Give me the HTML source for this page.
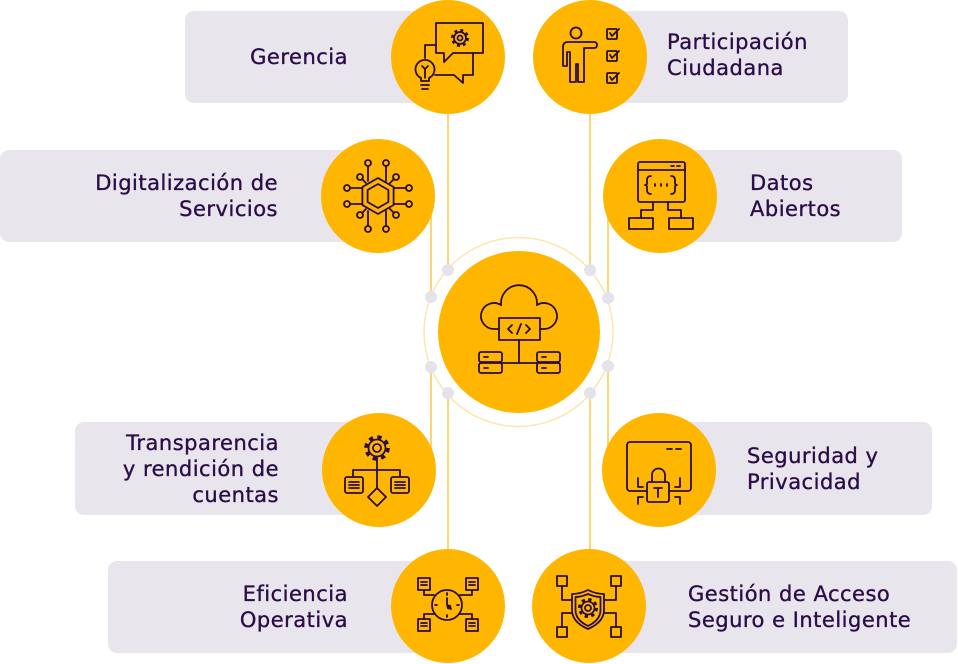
<!DOCTYPE html>
<html><head><meta charset="utf-8"><style>
html,body{margin:0;padding:0;background:#fff;}
#c{position:relative;width:958px;height:664px;overflow:hidden;background:#fff;}
svg{position:absolute;left:0;top:0;}
.t{position:absolute;display:flex;align-items:center;font-family:"DejaVu Sans","Liberation Sans",sans-serif;font-size:21px;line-height:26px;letter-spacing:0.5px;color:#2B0C47;white-space:nowrap;-webkit-text-stroke:0.35px #2B0C47;}
.l{justify-content:flex-end;text-align:right;}
.r{justify-content:flex-start;text-align:left;}
</style></head><body><div id="c">
<svg width="958" height="664" viewBox="0 0 958 664" xmlns="http://www.w3.org/2000/svg">
<g fill="#E8E5ED">
<rect x="185" y="11" width="263" height="92" rx="9"/>
<rect x="590" y="11" width="258" height="92" rx="9"/>
<rect x="0" y="150" width="378" height="92" rx="9"/>
<rect x="660" y="150" width="242" height="92" rx="9"/>
<rect x="75" y="422" width="304" height="93" rx="9"/>
<rect x="659" y="422" width="273" height="93" rx="9"/>
<rect x="108" y="561" width="340" height="92" rx="9"/>
<rect x="589" y="561" width="368" height="92" rx="9"/>
</g>
<g stroke="#F9C84F" stroke-width="1.5">
<line x1="448" y1="57" x2="448" y2="606"/>
<line x1="431" y1="196" x2="431" y2="470"/>
<line x1="590" y1="57" x2="590" y2="606"/>
<line x1="608" y1="196" x2="608" y2="470"/>
</g>
<circle cx="518.5" cy="332" r="94.5" fill="#fff" stroke="#FDE6AE" stroke-width="1.5"/>
<g fill="#E5E3EA">
<circle cx="448" cy="270" r="6"/><circle cx="431" cy="297" r="6"/>
<circle cx="431" cy="367" r="6"/><circle cx="448" cy="393" r="6"/>
<circle cx="590" cy="270" r="6"/><circle cx="608" cy="298" r="6"/>
<circle cx="608" cy="366" r="6"/><circle cx="590" cy="393" r="6"/>
</g>
<g fill="#FFB600">
<circle cx="519" cy="332" r="81"/>
<circle cx="448" cy="57" r="57"/><circle cx="590" cy="57" r="57"/>
<circle cx="378" cy="196" r="57"/><circle cx="660" cy="196" r="57"/>
<circle cx="379" cy="470" r="57"/><circle cx="659" cy="470" r="57"/>
<circle cx="448" cy="606" r="57"/><circle cx="589" cy="606" r="57"/>
</g>
<g fill="none" stroke="#2B0C47" stroke-width="1.8" stroke-linecap="round" stroke-linejoin="round">
<!-- Gerencia -->
<path d="M436,45 H425 V58"/>
<path d="M473,53 V75 H463 V83 L454,75 H435"/>
<path d="M436,23 H483 V53 H453 L444,62 V53 H436 Z" fill="#FFB600"/>
<circle cx="460" cy="38" r="7.5" stroke-width="3" stroke-dasharray="2.9 3" stroke-linecap="butt"/>
<circle cx="460" cy="38" r="6" fill="#FFB600"/>
<circle cx="460" cy="38" r="2.5"/>
<path d="M421,78 A9.5,9.5 0 1 1 429,78 V81 H421 Z" fill="#FFB600"/>
<path d="M421,85 H429 M422,89 H428"/>
<path d="M425,78 V69 M422,66 L425,69 L428,66"/>
<!-- Participacion -->
<circle cx="576" cy="33" r="5.5"/>
<path d="M563,47 Q563,42 568,42 H594 Q597,42 597,45 Q597,48 594,48 H584 V82 H578 V64 H576 V82 H570 V52 H567 V66 H563 Z"/>
<rect x="607" y="29" width="10" height="10" rx="1"/>
<rect x="607" y="51" width="10" height="10" rx="1"/>
<rect x="607" y="73" width="10" height="10" rx="1"/>
<path d="M610,33 L612,36 L619,29 M610,55 L612,58 L619,51 M610,77 L612,80 L619,73"/>
<!-- Digitalizacion -->
<polygon points="378,178 393.6,187 393.6,205 378,214 362.4,205 362.4,187"/>
<polygon points="378,184 388.4,190 388.4,202 378,208 367.6,202 367.6,190"/>
<circle cx="368" cy="163" r="3"/><circle cx="386" cy="163" r="3"/>
<circle cx="360" cy="177" r="3"/><circle cx="396" cy="177" r="3"/>
<circle cx="347" cy="188" r="3"/><circle cx="347" cy="204" r="3"/>
<circle cx="409" cy="188" r="3"/><circle cx="409" cy="204" r="3"/>
<circle cx="360" cy="215" r="3"/><circle cx="396" cy="215" r="3"/>
<circle cx="368" cy="229" r="3"/><circle cx="386" cy="229" r="3"/>
<path d="M368,166 V181 M386,166 V181 M362,179 L366,183 M394,179 L390,183 M350,188 H362 M350,204 H362 M406,188 H394 M406,204 H394 M362,213 L366,209 M394,213 L390,209 M368,226 V211 M386,226 V211"/>
<!-- Datos -->
<rect x="638" y="162" width="47" height="40" rx="2"/>
<path d="M638,170 H685 M671,166 H674 M677,166 H680"/>
<path d="M651,176 Q647,176 647,180 V183 Q647,185 645,185 Q647,185 647,187 V190 Q647,194 651,194"/>
<path d="M671,176 Q675,176 675,180 V183 Q675,185 677,185 Q675,185 675,187 V190 Q675,194 671,194"/>
<path d="M655,184 V186 M661,184 V186 M667,184 V186"/>
<path d="M653,202 V210 H641 V218 M668,202 V210 H681 V218"/>
<rect x="629" y="218" width="24" height="11"/>
<rect x="669" y="218" width="24" height="11"/>
<!-- Center -->
<path d="M499,329 H494 A13,13 0 1 1 501.1,305.1 A18,18 0 1 1 536.9,305.1 A13,13 0 1 1 544,329 H540"/>
<rect x="499" y="318" width="41" height="22"/>
<path d="M512,325 L508,329 L512,333 M526,325 L530,329 L526,333 M521,324 L517,334"/>
<path d="M519,340 V363 M502,363 H537"/>
<rect x="479" y="352" width="23" height="10" rx="2"/>
<rect x="479" y="363" width="23" height="10" rx="2"/>
<rect x="537" y="352" width="23" height="10" rx="2"/>
<rect x="537" y="363" width="23" height="10" rx="2"/>
<path d="M484,357 H488 M484,368 H488 M542,357 H546 M542,368 H546"/>
<!-- Transparencia -->
<circle cx="377" cy="448" r="11" stroke-width="3.5" stroke-dasharray="4.3 4.34" stroke-linecap="butt"/>
<circle cx="377" cy="448" r="8.5" fill="#FFB600"/>
<circle cx="377" cy="448" r="4"/>
<path d="M377,457 V488 M353,470 H400 M353,470 V477 M400,470 V477"/>
<rect x="345" y="477" width="18" height="16" rx="2"/>
<rect x="391" y="477" width="18" height="16" rx="2"/>
<path d="M349,482 H359 M349,485 H359 M349,488 H359 M395,482 H405 M395,485 H405 M395,488 H405"/>
<path d="M377,488 L386,497 L377,506 L368,497 Z"/>
<!-- Seguridad -->
<rect x="627" y="442" width="64" height="49" rx="3"/>
<path d="M667,449 H672 M676,449 H681"/>
<path d="M652,482 V475 A6.5,6.5 0 0 1 665,475 V482"/>
<rect x="647" y="482" width="22" height="20" rx="2" fill="#FFB600"/>
<path d="M654,488 H662 M658,488 V497"/>
<path d="M638,478 V487 H643 M680,478 V487 H675 M638,504 V497 H643 M680,504 V497 H675"/>
<!-- Eficiencia -->
<circle cx="447" cy="605" r="15"/>
<path d="M447,593 V595 M447,615 V617 M435,605 H437 M457,605 H459 M447,598 V605 L451,609"/>
<circle cx="449" cy="607" r="1.5"/>
<rect x="418" y="578" width="12" height="12"/>
<rect x="466" y="578" width="12" height="12"/>
<rect x="418" y="619" width="12" height="12"/>
<rect x="466" y="619" width="12" height="12"/>
<path d="M421,582 H427 M421,585 H427 M469,582 H475 M469,585 H475 M421,623 H427 M421,626 H427 M469,623 H475 M469,626 H475"/>
<path d="M424,590 V595 H434 M472,590 V595 H460 M424,619 V614 H434 M472,619 V614 H460"/>
<!-- Gestion -->
<path d="M588,590 Q580,594 572,594 V610 Q572,622 588,629 Q604,622 604,610 V594 Q596,594 588,590 Z"/>
<path d="M588,594 Q581,597 575.5,597 V610 Q575.5,620 588,626 Q600.5,620 600.5,610 V597 Q595,597 588,594 Z"/>
<circle cx="588" cy="608" r="8.5" stroke-width="3" stroke-dasharray="3.3 3.37" stroke-linecap="butt"/>
<circle cx="588" cy="608" r="6.5" fill="#FFB600"/>
<circle cx="588" cy="608" r="3"/>
<rect x="557" y="576" width="10" height="10"/>
<rect x="611" y="576" width="10" height="10"/>
<rect x="557" y="627" width="10" height="10"/>
<rect x="611" y="627" width="10" height="10"/>
<path d="M562,586 V600 H572 M616,586 V600 H604 M562,627 V613 H572 M616,627 V613 H604"/>
</g>
</svg>
<div class="t l" style="left:185px;width:163px;top:11px;height:92px;">Gerencia</div>
<div class="t l" style="left:0px;width:278px;top:150px;height:92px;">Digitalización de<br>Servicios</div>
<div class="t l" style="left:75px;width:204px;top:422px;height:93px;">Transparencia<br>y rendición de<br>cuentas</div>
<div class="t l" style="left:108px;width:240px;top:561px;height:92px;">Eficiencia<br>Operativa</div>
<div class="t r" style="left:667px;width:200px;top:9px;height:92px;">Participación<br>Ciudadana</div>
<div class="t r" style="left:750px;width:150px;top:150px;height:92px;">Datos<br>Abiertos</div>
<div class="t r" style="left:747px;width:180px;top:422px;height:93px;">Seguridad y<br>Privacidad</div>
<div class="t r" style="left:688px;width:260px;top:561px;height:92px;">Gestión de Acceso<br>Seguro e Inteligente</div>
</div></body></html>
